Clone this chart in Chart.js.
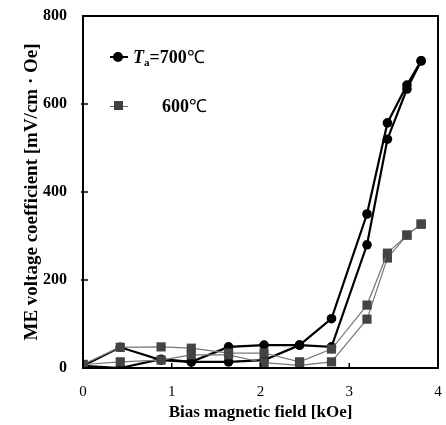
<!DOCTYPE html>
<html>
<head>
<meta charset="utf-8">
<script src="https://cdn.jsdelivr.net/npm/chart.js@4.4.1/dist/chart.umd.min.js"></script>
<style>
  body { margin: 0; background: #fff; }
  #wrap { position: relative; width: 446px; height: 425px; }
  .lg { position: absolute; font-family: "Liberation Serif", "Times New Roman", serif; font-weight: bold; font-size: 18px; line-height: 20px; color: #000; white-space: nowrap; }
  .lg sub { font-size: 11px; vertical-align: -3px; line-height: 0; }
  .lg .deg { font-weight: normal; }
  .ln { position: absolute; }
  .mk { position: absolute; }
</style>
</head>
<body>
<div id="wrap">
  <canvas id="c" width="446" height="425"></canvas>
  <!-- legend -->
  <div class="ln" style="left:110px;top:56px;width:18px;height:2px;background:#000"></div>
  <div class="mk" style="left:113px;top:52px;width:10px;height:10px;border-radius:50%;background:#000"></div>
  <div class="lg" style="left:133px;top:47px"><i>T</i><sub>a</sub>=700<span class="deg">℃</span></div>
  <div class="ln" style="left:110px;top:106px;width:18px;height:1px;background:#666"></div>
  <div class="mk" style="left:114px;top:101px;width:9px;height:9px;background:#404040"></div>
  <div class="lg" style="left:162px;top:96px">600<span class="deg">℃</span></div>
</div>
<script>
// bias field [kOe]
const fieldKOe = [0, 0.42, 0.88, 1.22, 1.64, 2.04, 2.44, 2.8, 3.2, 3.43, 3.65, 3.81];

// Ta = 700 C, two sweep branches [mV/cm·Oe]
const me700A = [5, 47, 18, 14, 48, 52, 52, 112, 350, 557, 643, 698];
const me700B = [5, 0, 20, 14, 14, 18, 52, 48, 280, 520, 634, 698];

// Ta = 600 C
const me600A = [8, 47, 48, 45, 34, 34, 14, 43, 143, 261, 302, 327];
const me600B = [8, 14, 18, 30, 30, 12, 6, 14, 111, 250, 302, 327];

const xTicks = [0, 1, 2, 3, 4];
const yTicks = [0, 200, 400, 600, 800];

const serif = "'Liberation Serif', 'Times New Roman', serif";

function pts(ys) {
  return fieldKOe.map((x, i) => ({ x: x, y: ys[i] }));
}

function blackSet(ys) {
  return {
    data: pts(ys),
    borderColor: "#000",
    backgroundColor: "#000",
    borderWidth: 2.2,
    pointStyle: "circle",
    pointRadius: 4.8,
    pointBorderWidth: 0,
    tension: 0,
  };
}

function graySet(ys) {
  return {
    data: pts(ys),
    borderColor: "#777",
    backgroundColor: "#444",
    borderWidth: 1.2,
    pointStyle: "rect",
    pointRadius: 6.5,
    pointBorderWidth: 0,
    tension: 0,
  };
}

// frame + inward tick marks
const framePlugin = {
  id: "frame",
  afterDraw(chart) {
    const { ctx, chartArea: a, scales } = chart;
    ctx.save();
    ctx.strokeStyle = "#000";
    ctx.lineWidth = 2;
    ctx.strokeRect(a.left, a.top, a.right - a.left, a.bottom - a.top);
    ctx.lineWidth = 1.5;
    ctx.beginPath();
    xTicks.slice(1, -1).forEach((v) => {
      const px = scales.x.getPixelForValue(v);
      ctx.moveTo(px, a.bottom);
      ctx.lineTo(px, a.bottom - 5);
    });
    yTicks.slice(1, -1).forEach((v) => {
      const py = scales.y.getPixelForValue(v);
      ctx.moveTo(a.left - 2, py);
      ctx.lineTo(a.left + 5, py);
    });
    ctx.stroke();
    ctx.restore();
  },
};

new Chart(document.getElementById("c"), {
  type: "line",
  data: {
    datasets: [graySet(me600A), graySet(me600B), blackSet(me700A), blackSet(me700B)],
  },
  options: {
    responsive: false,
    animation: false,
    layout: { padding: { top: 16, right: 8, left: 0, bottom: 0 } },
    plugins: { legend: { display: false }, tooltip: { enabled: false } },
    scales: {
      x: {
        type: "linear",
        min: 0,
        max: 4,
        afterBuildTicks: (s) => { s.ticks = xTicks.map((v) => ({ value: v })); },
        afterFit: (s) => { s.height = 57; s.paddingLeft = 0; s.paddingRight = 0; },
        grid: { display: false, drawTicks: false },
        border: { display: false },
        ticks: { color: "#000", padding: 15, font: { family: serif, size: 15 } },
        title: {
          display: true,
          text: "Bias magnetic field [kOe]",
          color: "#000",
          font: { family: serif, size: 17, weight: "bold" },
          padding: { top: 0, bottom: 2 },
        },
      },
      y: {
        min: 0,
        max: 800,
        afterBuildTicks: (s) => { s.ticks = yTicks.map((v) => ({ value: v })); },
        afterFit: (s) => { s.width = 83; s.paddingTop = 0; s.paddingBottom = 0; },
        grid: { display: false, drawTicks: false },
        border: { display: false },
        ticks: { color: "#000", padding: 16, font: { family: serif, size: 16, weight: "bold" } },
        title: {
          display: true,
          text: "ME voltage coefficient [mV/cm · Oe]",
          color: "#000",
          font: { family: serif, size: 19, weight: "bold" },
          padding: { top: 21, bottom: 0 },
        },
      },
    },
  },
  plugins: [framePlugin],
});
</script>
</body>
</html>
